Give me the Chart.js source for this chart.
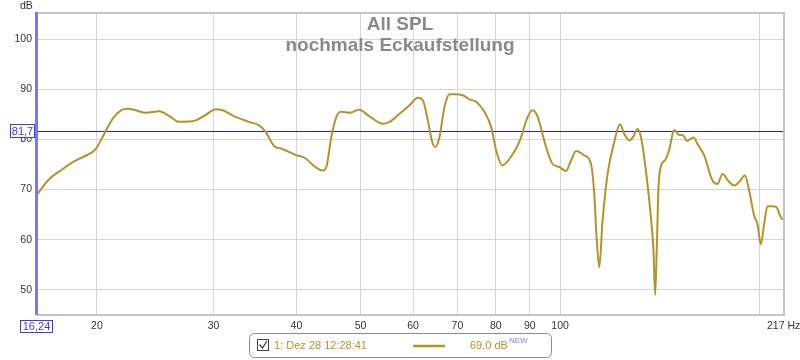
<!DOCTYPE html>
<html>
<head>
<meta charset="utf-8">
<script src="https://cdn.jsdelivr.net/npm/chart.js@4/dist/chart.umd.min.js"></script>
<style>
html,body{margin:0;padding:0;background:#fff;}
#wrap{width:800px;height:360px;position:relative;}
canvas{display:block;}
</style>
</head>
<body>
<div id="wrap"><canvas id="c" width="800" height="360"></canvas></div>
<script>
// ---- data ----
const titleLines = ['All SPL', 'nochmals Eckaufstellung'];
const freqs = [16.24, 16.95, 17.76, 18.59, 19.47, 19.93, 20.40, 21.12, 21.74, 22.25, 22.90, 23.71, 24.83, 25.70, 26.61, 28.20, 29.19, 30.23, 30.94, 32.40, 33.93, 35.13, 35.95, 37.00, 38.10, 39.90, 41.21, 42.62, 43.87, 44.39, 45.17, 45.96, 46.76, 48.13, 49.71, 51.58, 54.02, 55.29, 57.24, 59.27, 61.00, 62.07, 63.16, 64.13, 64.87, 65.77, 66.93, 68.10, 69.29, 71.31, 72.99, 74.71, 76.89, 78.70, 80.08, 81.76, 83.86, 86.82, 89.36, 90.92, 92.51, 95.25, 97.45, 99.74, 102.09, 103.88, 105.70, 108.79, 111.35, 112.63, 113.53, 114.60, 115.92, 117.95, 120.72, 123.13, 124.99, 127.18, 128.95, 130.89, 132.44, 134.76, 137.12, 138.36, 139.18, 140.00, 140.78, 141.96, 144.10, 146.11, 148.67, 151.27, 153.39, 155.37, 159.00, 161.22, 165.01, 169.83, 172.81, 175.83, 179.97, 183.12, 186.33, 190.05, 192.91, 196.29, 198.56, 200.91, 203.23, 205.57, 209.17, 212.09, 215.35, 217];
const spl = [69.0, 72.1, 74.1, 75.8, 77.1, 78.1, 80.5, 84.1, 85.8, 86.1, 85.8, 85.3, 85.6, 84.7, 83.5, 83.8, 84.9, 86.0, 85.8, 84.5, 83.5, 82.8, 81.5, 78.7, 78.1, 76.9, 76.3, 74.6, 73.8, 74.5, 80.5, 84.5, 85.5, 85.3, 85.9, 84.6, 83.1, 83.5, 85.1, 86.8, 88.3, 87.8, 83.8, 79.5, 78.5, 80.5, 86.5, 89.0, 89.0, 88.8, 88.0, 87.5, 85.5, 82.5, 77.8, 74.8, 76.1, 79.5, 84.5, 85.8, 84.5, 78.5, 75.1, 74.5, 73.7, 75.8, 77.7, 76.8, 75.1, 69.1, 60.5, 54.5, 63.8, 73.1, 79.5, 83.0, 81.1, 79.8, 80.5, 82.1, 80.5, 73.8, 64.5, 57.8, 49.0, 59.1, 70.4, 74.6, 75.9, 77.9, 81.9, 80.9, 80.8, 79.7, 80.4, 79.1, 76.8, 71.8, 71.1, 73.1, 71.5, 70.8, 71.5, 72.8, 69.8, 64.8, 63.1, 59.1, 63.1, 66.7, 66.7, 66.5, 64.5, 64.0];
const xTicks = [20, 30, 40, 50, 60, 70, 80, 90, 100, 200];
const xTickLabels = ['20', '30', '40', '50', '60', '70', '80', '90', '100', ''];
const yTicks = [50, 60, 70, 80, 90, 100];
const xMin = 16.24, xMax = 217;
const yMin = 45.2, yMax = 105.2;
const cursorFreq = 16.24, cursorLevel = 81.7;
const cursorFreqLabel = '16,24', cursorLevelLabel = '81,7';
const xUnitLabel = '217 Hz', yUnitLabel = 'dB';
const legendName = '1: Dez 28 12:28:41', legendValue = '69,0 dB', legendTag = 'NEW';

const FONT = "'Liberation Sans', Arial, sans-serif";
const GOLD = '#b39428';

const overlay = {
  id: 'overlay',
  beforeDatasetsDraw(chart) {
    const {ctx, chartArea: a, scales: {x, y}} = chart;
    ctx.save();
    // title
    ctx.fillStyle = '#8a8a8a';
    ctx.font = 'bold 19px ' + FONT;
    ctx.textAlign = 'center';
    ctx.textBaseline = 'alphabetic';
    ctx.fillText(titleLines[0], 400, 30);
    ctx.fillText(titleLines[1], 400, 51);
    // horizontal cursor line
    const yl = Math.round(y.getPixelForValue(cursorLevel)) + 0.5;
    ctx.strokeStyle = '#2020d8';
    ctx.lineWidth = 1.2;
    ctx.beginPath(); ctx.moveTo(a.left, yl); ctx.lineTo(a.right, yl); ctx.stroke();
    ctx.restore();
  },
  afterDraw(chart) {
    const {ctx, chartArea: a, scales: {x, y}} = chart;
    ctx.save();
    // frame
    ctx.strokeStyle = '#c4c4c4';
    ctx.lineWidth = 2;
    ctx.beginPath();
    ctx.moveTo(a.left, a.top); ctx.lineTo(a.right + 1, a.top);
    ctx.lineTo(a.right + 1, a.bottom + 1); ctx.lineTo(a.left, a.bottom + 1);
    ctx.stroke();
    // vertical cursor
    const xc = x.getPixelForValue(cursorFreq);
    ctx.strokeStyle = '#7a7ae8';
    ctx.lineWidth = 3;
    ctx.beginPath(); ctx.moveTo(xc - 0.5, a.top - 1); ctx.lineTo(xc - 0.5, a.bottom + 1); ctx.stroke();

    ctx.font = '11px ' + FONT;
    ctx.textBaseline = 'middle';
    // level box
    const yl = Math.round(y.getPixelForValue(cursorLevel));
    ctx.fillStyle = '#fff';
    ctx.fillRect(11, yl - 6, 23, 12);
    ctx.strokeStyle = '#3c3ce0'; ctx.lineWidth = 1;
    ctx.strokeRect(10.5, yl - 6.5, 24, 13);
    ctx.fillStyle = '#3c3ce0';
    ctx.textAlign = 'center';
    ctx.fillText(cursorLevelLabel, 22.5, yl + 0.5);
    // freq box
    ctx.fillStyle = '#fff';
    ctx.fillRect(21, 321, 31, 11);
    ctx.strokeStyle = '#3c3ce0';
    ctx.strokeRect(20.5, 320.5, 32, 12);
    ctx.fillStyle = '#3c3ce0';
    ctx.fillText(cursorFreqLabel, 36.5, 327);
    // units
    ctx.fillStyle = '#333';
    ctx.font = '10.5px ' + FONT;
    ctx.textAlign = 'left';
    ctx.fillText(yUnitLabel, 20, 6);
    ctx.fillText(xUnitLabel, 767, 326);

    // legend box
    ctx.strokeStyle = '#8c8c8c'; ctx.lineWidth = 1;
    ctx.beginPath();
    ctx.roundRect(249.5, 333.5, 302, 24, 5);
    ctx.stroke();
    // checkbox
    ctx.strokeStyle = '#444';
    ctx.strokeRect(257.5, 339.5, 11, 11);
    ctx.beginPath();
    ctx.moveTo(259.5, 344.5); ctx.lineTo(262.5, 348); ctx.lineTo(267, 341);
    ctx.lineWidth = 1.3; ctx.stroke();
    ctx.fillStyle = GOLD;
    ctx.font = '11px ' + FONT;
    ctx.textAlign = 'left';
    ctx.fillText(legendName, 274, 346);
    ctx.strokeStyle = GOLD; ctx.lineWidth = 2.5;
    ctx.beginPath(); ctx.moveTo(413, 346); ctx.lineTo(445, 346); ctx.stroke();
    ctx.fillText(legendValue, 470, 346);
    const vw = ctx.measureText(legendValue).width;
    ctx.fillStyle = '#8080f0';
    ctx.font = '8px ' + FONT;
    ctx.fillText(legendTag, 470 + vw + 1, 341);
    ctx.restore();
  }
};

new Chart(document.getElementById('c'), {
  type: 'line',
  data: {
    datasets: [{
      data: freqs.map((f, i) => ({x: f, y: spl[i]})),
      borderColor: GOLD,
      borderWidth: 2,
      pointRadius: 0,
      fill: false,
      cubicInterpolationMode: 'monotone'
    }]
  },
  options: {
    responsive: false,
    animation: false,
    events: [],
    layout: {padding: {top: 13, right: 17, left: 0, bottom: 0}},
    plugins: {legend: {display: false}, tooltip: {enabled: false}},
    scales: {
      x: {
        type: 'logarithmic',
        min: xMin, max: xMax,
        afterBuildTicks: s => { s.ticks = xTicks.map(v => ({value: v})); },
        afterFit: s => { s.height = 46; },
        grid: {color: '#d5d5d5', lineWidth: 1, drawTicks: false},
        border: {display: false},
        ticks: {
          autoSkip: false, maxRotation: 0, padding: 6,
          color: '#333', font: {family: FONT, size: 10.5},
          callback: (v, i) => xTickLabels[i]
        }
      },
      y: {
        type: 'linear',
        min: yMin, max: yMax,
        afterBuildTicks: s => { s.ticks = yTicks.map(v => ({value: v})); },
        afterFit: s => { s.width = 37; },
        grid: {color: '#d5d5d5', lineWidth: 1, drawTicks: false},
        border: {display: false},
        ticks: {
          padding: 5, color: '#333', font: {family: FONT, size: 10.5},
          callback: v => String(v)
        }
      }
    }
  },
  plugins: [overlay]
});
</script>
</body>
</html>
